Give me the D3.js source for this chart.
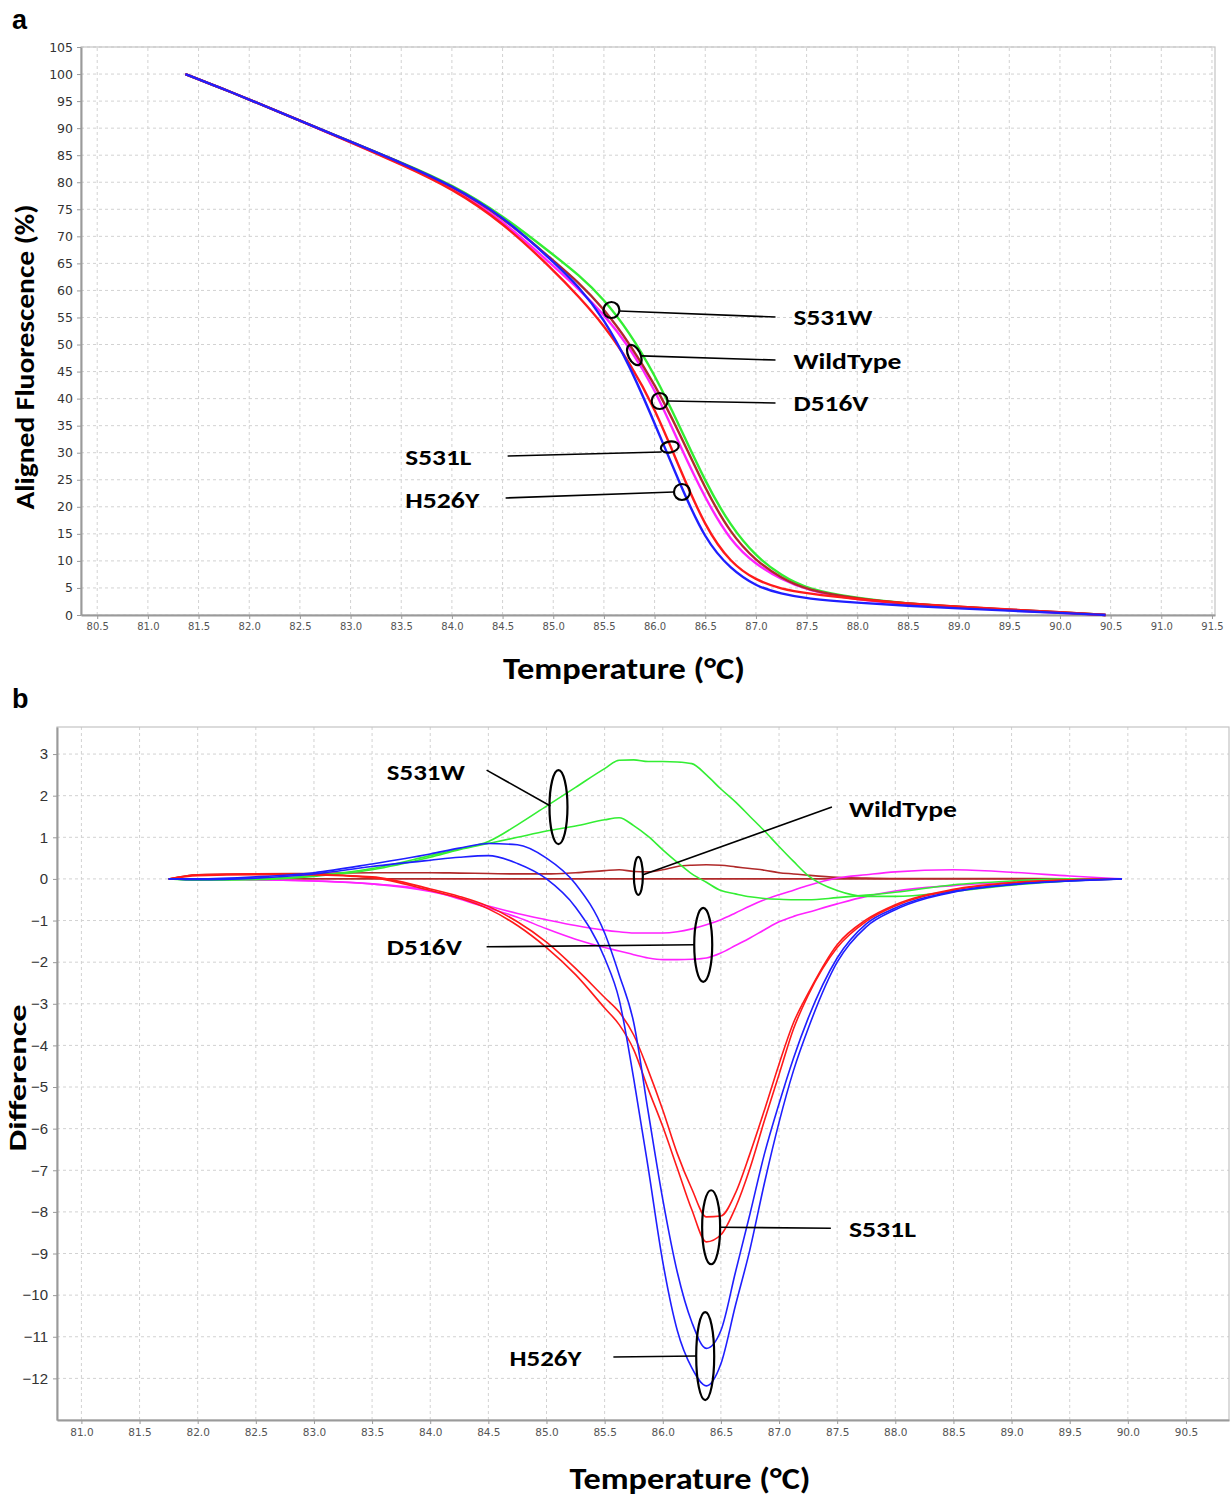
<!DOCTYPE html>
<html lang="en">
<head>
<meta charset="UTF-8">
<title>HRM melt and difference curves</title>
<script src="https://cdn.jsdelivr.net/npm/d3@7/dist/d3.min.js"></script>
<style>
    body { margin: 0; background: #fff; }
</style>
</head>
<body>
<script>
    // ---- panel a: aligned melt curves (one line per genotype) ----
    var meltTemps = [81.37, 81.75, 82.0, 82.5, 83.0, 83.5, 84.0, 84.5, 85.0, 85.25, 85.5, 85.75, 86.0,
        86.25, 86.5, 86.75, 87.0, 87.25, 87.5, 88.0, 88.5, 89.0, 89.5, 90.0, 90.45];
    var meltS531W = [100, 97.2, 95.3, 91.4, 87.5, 83.7, 79.6, 73.9, 66.6, 62.9, 58.4, 52.3, 44.5,
        34.8, 24.6, 16.4, 10.8, 7.3, 4.8, 3.05, 2.1, 1.5, 0.9, 0.5, 0];
    var meltWild = [100, 97.2, 95.3, 91.4, 87.5, 83.6, 79.4, 73.6, 65.5, 61.5, 56.6, 50.3, 42.7,
        33.5, 23.3, 15.0, 10.0, 6.8, 4.6, 3.0, 2.1, 1.5, 1.0, 0.5, 0];
    var meltD516V = [100, 97.2, 95.3, 91.4, 87.4, 83.4, 79.1, 73.0, 64.5, 60.3, 55.6, 49.6, 41.9,
        31.3, 21.5, 13.6, 9.3, 6.6, 4.6, 2.75, 2.0, 1.4, 0.9, 0.4, 0];
    var meltS531L = [100, 97.2, 95.3, 91.4, 87.4, 83.3, 78.9, 72.6, 63.8, 58.9, 53.6, 46.8, 38.3,
        27.0, 16.2, 9.6, 6.4, 4.8, 4.0, 2.9, 2.1, 1.5, 1.0, 0.55, 0];
    var meltH526Y = [100, 97.2, 95.3, 91.4, 87.5, 83.6, 79.4, 73.8, 65.3, 60.8, 54.8, 46.3, 35.5,
        24.2, 13.8, 8.5, 5.3, 3.9, 3.0, 2.25, 1.7, 1.2, 0.8, 0.4, 0];

    // ---- panel b: difference curves (two replicates per genotype) ----
    var diffTemps = [81.75, 82.0, 82.5, 83.0, 83.5, 84.0, 84.25, 84.5, 84.75, 85.0, 85.25, 85.5, 85.625,
        85.75, 85.875, 86.0, 86.125, 86.25, 86.375, 86.5, 86.625, 86.75, 86.875, 87.0, 87.125, 87.25,
        87.5, 87.75, 88.0, 88.5, 89.0, 89.5, 89.95];
    var diffWild1 = [0, 0, 0, 0, 0, 0, 0, 0, 0, 0, 0, 0, 0, 0, 0, 0, 0, 0, 0, 0, 0, 0, 0, 0, 0, 0,
        0, 0, 0, 0, 0, 0, 0];
    var diffWild2 = [0, 0.1, 0.12, 0.13, 0.15, 0.15, 0.14, 0.13, 0.12, 0.12, 0.15, 0.2, 0.22, 0.18,
        0.17, 0.22, 0.3, 0.33, 0.34, 0.33, 0.29, 0.25, 0.21, 0.15, 0.12, 0.09, 0.04, 0.02, 0.01, 0.01,
        0.01, 0, 0];
    var diffD516V1 = [0, 0, -0.02, -0.05, -0.12, -0.3, -0.46, -0.65, -0.83, -0.98, -1.12, -1.23, -1.27,
        -1.3, -1.3, -1.3, -1.27, -1.2, -1.1, -0.98, -0.82, -0.65, -0.5, -0.38, -0.27, -0.16, 0.02, 0.1,
        0.17, 0.22, 0.16, 0.07, 0];
    var diffD516V2 = [0, 0, -0.02, -0.05, -0.12, -0.28, -0.48, -0.7, -0.92, -1.2, -1.45, -1.65, -1.73,
        -1.82, -1.9, -1.94, -1.94, -1.93, -1.9, -1.78, -1.6, -1.42, -1.22, -1.03, -0.9, -0.8, -0.6,
        -0.42, -0.29, -0.16, -0.08, -0.02, 0];
    var diffS531W1 = [0, -0.02, 0, 0.08, 0.25, 0.56, 0.72, 0.9, 1.3, 1.75, 2.2, 2.65, 2.85, 2.86,
        2.82, 2.82, 2.81, 2.77, 2.5, 2.16, 1.85, 1.5, 1.15, 0.78, 0.42, 0.08, -0.28, -0.42, -0.42,
        -0.3, -0.15, -0.05, 0];
    var diffS531W2 = [0, -0.03, -0.02, 0.06, 0.22, 0.52, 0.7, 0.85, 1.0, 1.15, 1.27, 1.42, 1.47, 1.28,
        1.02, 0.7, 0.4, 0.12, -0.08, -0.28, -0.36, -0.43, -0.47, -0.49, -0.5, -0.5, -0.45, -0.39,
        -0.32, -0.14, -0.05, 0, 0];
    var diffS531L1 = [0, 0.08, 0.1, 0.1, 0.05, -0.24, -0.42, -0.66, -1.03, -1.52, -2.15, -2.85, -3.2,
        -3.75, -4.6, -5.55, -6.6, -7.45, -8.12, -8.1, -7.55, -6.6, -5.55, -4.45, -3.45, -2.75, -1.58,
        -0.98, -0.62, -0.25, -0.09, -0.02, 0];
    var diffS531L2 = [0, 0.1, 0.12, 0.1, 0.03, -0.28, -0.46, -0.72, -1.12, -1.65, -2.3, -3.1, -3.5,
        -4.1, -5.05, -5.95, -6.95, -7.95, -8.72, -8.55, -7.9, -6.95, -5.8, -4.7, -3.6, -2.8, -1.65,
        -1.02, -0.65, -0.27, -0.1, -0.03, 0];
    var diffH526Y1 = [0, 0, 0.05, 0.15, 0.36, 0.6, 0.74, 0.85, 0.82, 0.5, -0.12, -1.3, -2.3, -3.45,
        -5.6, -7.7, -9.45, -10.65, -11.28, -10.85, -9.45, -8.05, -6.6, -5.4, -4.3, -3.35, -1.9, -1.08,
        -0.7, -0.3, -0.13, -0.05, 0];
    var diffH526Y2 = [0, -0.02, 0.02, 0.12, 0.3, 0.45, 0.52, 0.56, 0.37, 0, -0.68, -1.9, -2.9, -4.8,
        -6.95, -9.2, -10.85, -11.75, -12.18, -11.65, -10.25, -8.9, -7.3, -5.85, -4.6, -3.6, -2.0,
        -1.15, -0.74, -0.32, -0.14, -0.05, 0];

    // ---- tick labels ----
    var xTicksA = [80.5, 81.0, 81.5, 82.0, 82.5, 83.0, 83.5, 84.0, 84.5, 85.0, 85.5, 86.0, 86.5,
        87.0, 87.5, 88.0, 88.5, 89.0, 89.5, 90.0, 90.5, 91.0, 91.5];
    var yTicksA = [0, 5, 10, 15, 20, 25, 30, 35, 40, 45, 50, 55, 60, 65, 70, 75, 80, 85, 90, 95, 100, 105];
    var xTicksB = [81.0, 81.5, 82.0, 82.5, 83.0, 83.5, 84.0, 84.5, 85.0, 85.5, 86.0, 86.5, 87.0,
        87.5, 88.0, 88.5, 89.0, 89.5, 90.0, 90.5];
    var yTicksB = [3, 2, 1, 0, -1, -2, -3, -4, -5, -6, -7, -8, -9, -10, -11, -12];

    var colors = {blue: '#1f1fff', red: '#ff1a1a', green: '#33ee33', magenta: '#ff22ff', brown: '#b02a2a'};
    var boldFont = 'Carlito, Lato, sans-serif';

    var svg = d3.select('body').append('svg').attr('width', 1231).attr('height', 1498);

    var xA = d3.scaleLinear().domain([80.34, 91.53]).range([81, 1215]);
    var yA = d3.scaleLinear().domain([0, 105]).range([615, 47]);
    var xB = d3.scaleLinear().domain([80.79, 90.87]).range([57, 1229]);
    var yB = d3.scaleLinear().domain([-13, 3.65]).range([1420, 727]);

    function frame(x, y, xTicks, yTicks, cfg) {
        var g = svg.append('g');
        var x0 = x.range()[0], x1 = x.range()[1], y0 = y.range()[0], y1 = y.range()[1];
        g.append('g').selectAll('line').data(xTicks).join('line')
            .attr('x1', function(d){return x(d);}).attr('x2', function(d){return x(d);})
            .attr('y1', y0).attr('y2', y1)
            .attr('stroke', '#d2d2d2').attr('stroke-dasharray', '3,3');
        g.append('g').selectAll('line').data(yTicks).join('line')
            .attr('y1', function(d){return y(d);}).attr('y2', function(d){return y(d);})
            .attr('x1', x0).attr('x2', x1)
            .attr('stroke', '#d2d2d2').attr('stroke-dasharray', '3,3');
        g.append('rect').attr('x', x0).attr('y', y1).attr('width', x1 - x0).attr('height', y0 - y1)
            .attr('fill', 'none').attr('stroke', '#c4c4c4').attr('stroke-width', 1.2);

        var ax = g.append('g').attr('transform', 'translate(0,' + y0 + ')')
            .call(d3.axisBottom(x).tickValues(xTicks).tickFormat(d3.format('.1f'))
                .tickSize(4).tickSizeOuter(0).tickPadding(cfg.xPad));
        var ay = g.append('g').attr('transform', 'translate(' + x0 + ',0)')
            .call(d3.axisLeft(y).tickValues(yTicks).tickFormat(d3.format('d'))
                .tickSize(4).tickSizeOuter(0).tickPadding(cfg.yPad));
        [ax, ay].forEach(function(a){
            a.select('.domain').attr('stroke', '#9a9a9a').attr('stroke-width', 2);
            a.selectAll('.tick line').attr('stroke', '#9a9a9a');
        });
        ax.selectAll('text').attr('font-family', 'DejaVu Sans, sans-serif')
            .attr('font-size', cfg.xSize).attr('fill', '#555');
        ay.selectAll('text').attr('font-family', cfg.yFamily)
            .attr('font-size', cfg.ySize).attr('fill', '#333');
        return g;
    }

    function fitText(sel, w) {
        sel.attr('textLength', w).attr('lengthAdjust', 'spacingAndGlyphs');
        return sel;
    }

    // ================= panel a =================
    frame(xA, yA, xTicksA, yTicksA, {xPad: 4, yPad: 4, xSize: 10, ySize: 12.5, yFamily: 'DejaVu Sans, sans-serif'});

    var meltSeries = [
        {vals: meltS531W, color: colors.green},
        {vals: meltD516V, color: colors.magenta},
        {vals: meltWild, color: colors.brown},
        {vals: meltS531L, color: colors.red},
        {vals: meltH526Y, color: colors.blue}
    ];
    // melt curves have no peaks, so a basis spline keeps the knees soft
    var lineA = d3.line().curve(d3.curveBasis)
        .x(function(d, i){return xA(meltTemps[i]);})
        .y(function(d){return yA(d);});
    svg.append('g').selectAll('path').data(meltSeries).join('path')
        .attr('d', function(s){return lineA(s.vals);})
        .attr('fill', 'none').attr('stroke', function(s){return s.color;})
        .attr('stroke-width', 2.4).attr('stroke-linejoin', 'round');

    // callouts, positioned in data units
    var calloutsA = [
        {label: 'S531W', cx: 85.574, cy: 56.38, rx: 8, ry: 8, rot: 0, x1: 85.65, y1: 56.2, x2: 87.193, y2: 55.08, tx: 87.371, ty: 55.1, w: 79},
        {label: 'WildType', cx: 85.80, cy: 48.06, rx: 6, ry: 11, rot: -27, x1: 85.87, y1: 47.9, x2: 87.193, y2: 47.13, tx: 87.371, ty: 47.0, w: 108},
        {label: 'D516V', cx: 86.05, cy: 39.56, rx: 8, ry: 8, rot: 0, x1: 86.13, y1: 39.56, x2: 87.193, y2: 39.19, tx: 87.371, ty: 39.2, w: 75},
        {label: 'S531L', cx: 86.15, cy: 31.05, rx: 9, ry: 5.5, rot: -10, x1: 84.55, y1: 29.39, x2: 86.07, y2: 30.13, tx: 83.54, ty: 29.2, w: 66},
        {label: 'H526Y', cx: 86.27, cy: 22.74, rx: 8, ry: 8, rot: 0, x1: 84.53, y1: 21.63, x2: 86.19, y2: 22.74, tx: 83.54, ty: 21.3, w: 74}
    ];

    function drawCallouts(list, x, y) {
        var g = svg.append('g');
        g.selectAll('line').data(list).join('line')
            .attr('x1', function(d){return x(d.x1);}).attr('y1', function(d){return y(d.y1);})
            .attr('x2', function(d){return x(d.x2);}).attr('y2', function(d){return y(d.y2);})
            .attr('stroke', '#000').attr('stroke-width', 1.6);
        g.selectAll('ellipse').data(list).join('ellipse')
            .attr('transform', function(d){return 'translate(' + x(d.cx) + ',' + y(d.cy) + ') rotate(' + d.rot + ')';})
            .attr('rx', function(d){return d.rx;}).attr('ry', function(d){return d.ry;})
            .attr('fill', 'none').attr('stroke', '#000').attr('stroke-width', 2.2);
        g.selectAll('text').data(list).join('text')
            .attr('x', function(d){return x(d.tx);}).attr('y', function(d){return y(d.ty);})
            .attr('dy', '0.36em')
            .attr('font-family', boldFont).attr('font-weight', 'bold').attr('font-size', 22)
            .attr('textLength', function(d){return d.w;}).attr('lengthAdjust', 'spacingAndGlyphs')
            .text(function(d){return d.label;});
    }
    drawCallouts(calloutsA, xA, yA);

    svg.append('text').attr('x', 12).attr('y', 29)
        .attr('font-family', 'Liberation Sans, Arial, sans-serif').attr('font-weight', 'bold')
        .attr('font-size', 27).text('a');
    fitText(svg.append('text').attr('x', 624).attr('y', 679).attr('text-anchor', 'middle')
        .attr('font-family', boldFont).attr('font-weight', 'bold').attr('font-size', 30)
        .text('Temperature (°C)'), 242);
    fitText(svg.append('text').attr('transform', 'translate(34,357) rotate(-90)').attr('text-anchor', 'middle')
        .attr('font-family', boldFont).attr('font-weight', 'bold').attr('font-size', 26)
        .text('Aligned Fluorescence (%)'), 305);

    // ================= panel b =================
    frame(xB, yB, xTicksB, yTicksB, {xPad: 5, yPad: 5, xSize: 10.5, ySize: 15, yFamily: 'Liberation Sans, Arial, sans-serif'});

    var diffSeries = [
        {vals: diffWild1, color: colors.brown},
        {vals: diffWild2, color: colors.brown},
        {vals: diffD516V1, color: colors.magenta},
        {vals: diffD516V2, color: colors.magenta},
        {vals: diffS531W1, color: colors.green},
        {vals: diffS531W2, color: colors.green},
        {vals: diffS531L1, color: colors.red},
        {vals: diffS531L2, color: colors.red},
        {vals: diffH526Y1, color: colors.blue},
        {vals: diffH526Y2, color: colors.blue}
    ];
    var lineB = d3.line().curve(d3.curveMonotoneX)
        .x(function(d, i){return xB(diffTemps[i]);})
        .y(function(d){return yB(d);});
    svg.append('g').selectAll('path').data(diffSeries).join('path')
        .attr('d', function(s){return lineB(s.vals);})
        .attr('fill', 'none').attr('stroke', function(s){return s.color;})
        .attr('stroke-width', 1.6).attr('stroke-linejoin', 'round');

    var calloutsB = [
        {label: 'S531W', cx: 85.103, cy: 1.727, rx: 9, ry: 37, rot: 0, x1: 84.485, y1: 2.614, x2: 85.034, y2: 1.751, tx: 83.627, ty: 2.566, w: 78},
        {label: 'WildType', cx: 85.79, cy: 0.072, rx: 4.5, ry: 19, rot: 0, x1: 87.455, y1: 1.727, x2: 85.824, y2: 0.096, tx: 87.601, ty: 1.679, w: 108},
        {label: 'D516V', cx: 86.348, cy: -1.583, rx: 9, ry: 37, rot: 0, x1: 84.485, y1: -1.631, x2: 86.27, y2: -1.583, tx: 83.627, ty: -1.631, w: 75},
        {label: 'S531L', cx: 86.416, cy: -8.369, rx: 9, ry: 37, rot: 0, x1: 86.485, y1: -8.369, x2: 87.446, y2: -8.393, tx: 87.601, ty: -8.417, w: 67},
        {label: 'H526Y', cx: 86.365, cy: -11.463, rx: 9, ry: 44, rot: 0, x1: 85.575, y1: -11.487, x2: 86.288, y2: -11.463, tx: 84.682, ty: -11.511, w: 72}
    ];
    drawCallouts(calloutsB, xB, yB);

    svg.append('text').attr('x', 12).attr('y', 708)
        .attr('font-family', 'Liberation Sans, Arial, sans-serif').attr('font-weight', 'bold')
        .attr('font-size', 27).text('b');
    fitText(svg.append('text').attr('x', 690).attr('y', 1489).attr('text-anchor', 'middle')
        .attr('font-family', boldFont).attr('font-weight', 'bold').attr('font-size', 30)
        .text('Temperature (°C)'), 241);
    fitText(svg.append('text').attr('transform', 'translate(26,1078) rotate(-90)').attr('text-anchor', 'middle')
        .attr('font-family', boldFont).attr('font-weight', 'bold').attr('font-size', 25)
        .text('Difference'), 147);
</script>
</body>
</html>
